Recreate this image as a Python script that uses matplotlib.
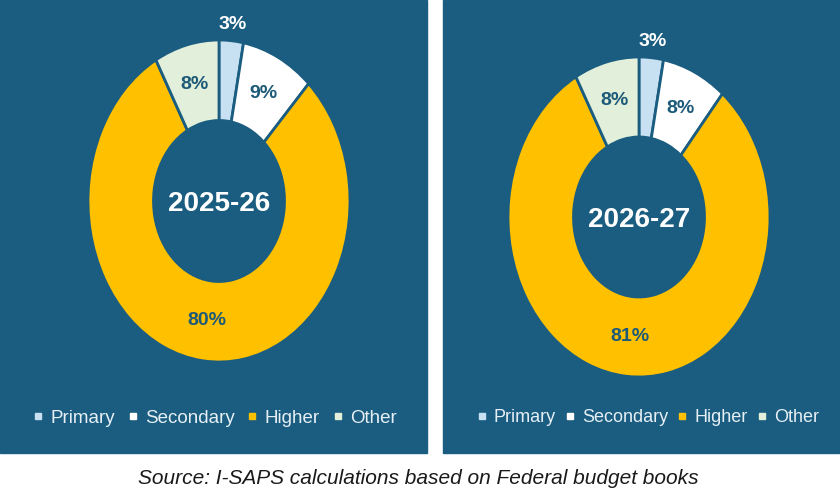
import numpy as np
import matplotlib.pyplot as plt
from matplotlib.patches import Rectangle
from matplotlib.lines import Line2D

plt.rcParams['font.family'] = ['Liberation Sans', 'DejaVu Sans']

# Data
categories = ['Primary', 'Secondary', 'Higher', 'Other']
years = ['2025-26', '2026-27']
shares_2025 = [3, 9, 80, 8]
shares_2026 = [3, 8, 81, 8]
source_note = 'Source: I-SAPS calculations based on Federal budget books'

bg = '#1a5d80'
label_dark = '#1d5a78'
colors = ['#c7e0f2', '#ffffff', '#ffc000', '#e2efda']

W, H = 840, 500
fig = plt.figure(figsize=(8.4, 5), dpi=100)
fig.patch.set_facecolor('white')

# panel backgrounds (pixels: x0, x1, top -> bottom)
for x0, x1 in [(0, 427), (443, 840)]:
    fig.add_artist(Rectangle((x0 / W, 1 - 453 / H), (x1 - x0) / W, 453 / H,
                             transform=fig.transFigure, color=bg, zorder=-1))

# donut centres and radii in pixels
donuts = [(219, 201, 131, 161), (639, 217, 131, 160)]
legend_x = [215, 648]
legend_font = [13.5, 13]
legend_spacing = [0.7, 0.55]

for i, ((cx, cy, rx, ry), year, vals) in enumerate(zip(donuts, years, [shares_2025, shares_2026])):
    ax = fig.add_axes([(cx - rx) / W, (H - cy - ry) / H, 2 * rx / W, 2 * ry / H])
    wedges, _ = ax.pie(vals, colors=colors, startangle=90, counterclock=False,
                       wedgeprops=dict(width=0.5, edgecolor=bg, linewidth=2))
    ax.set_aspect('auto')
    ax.set_xlim(-1, 1)
    ax.set_ylim(-1, 1)
    ax.patch.set_visible(False)
    ax.axis('off')

    for w, v in zip(wedges, vals):
        ang = np.deg2rad((w.theta1 + w.theta2) / 2)
        if v < 5:
            r, col = 1.1, 'white'
        else:
            r, col = 0.75, label_dark
        ax.text(r * np.cos(ang), r * np.sin(ang), f'{v}%', ha='center', va='center',
                fontsize=14, fontweight='bold', color=col)

    ax.text(0, -0.02, year, ha='center', va='center', fontsize=20,
            fontweight='bold', color='white')

    handles = [Line2D([], [], marker='s', linestyle='none', markersize=5,
                      markerfacecolor=c, markeredgecolor=c) for c in colors]
    fig.legend(handles, categories, loc='center',
               bbox_to_anchor=(legend_x[i] / W, 1 - 418 / H),
               ncol=4, frameon=False, fontsize=legend_font[i],
               labelcolor='#e6eff5', handlelength=0.5, handletextpad=0.4,
               columnspacing=legend_spacing[i], borderaxespad=0, borderpad=0)

fig.text(418 / W, 1 - 478 / H, source_note, ha='center', va='center',
         fontsize=15, style='italic', color='#1a1a1a')

plt.savefig('out.png', dpi=100, facecolor=fig.get_facecolor())
